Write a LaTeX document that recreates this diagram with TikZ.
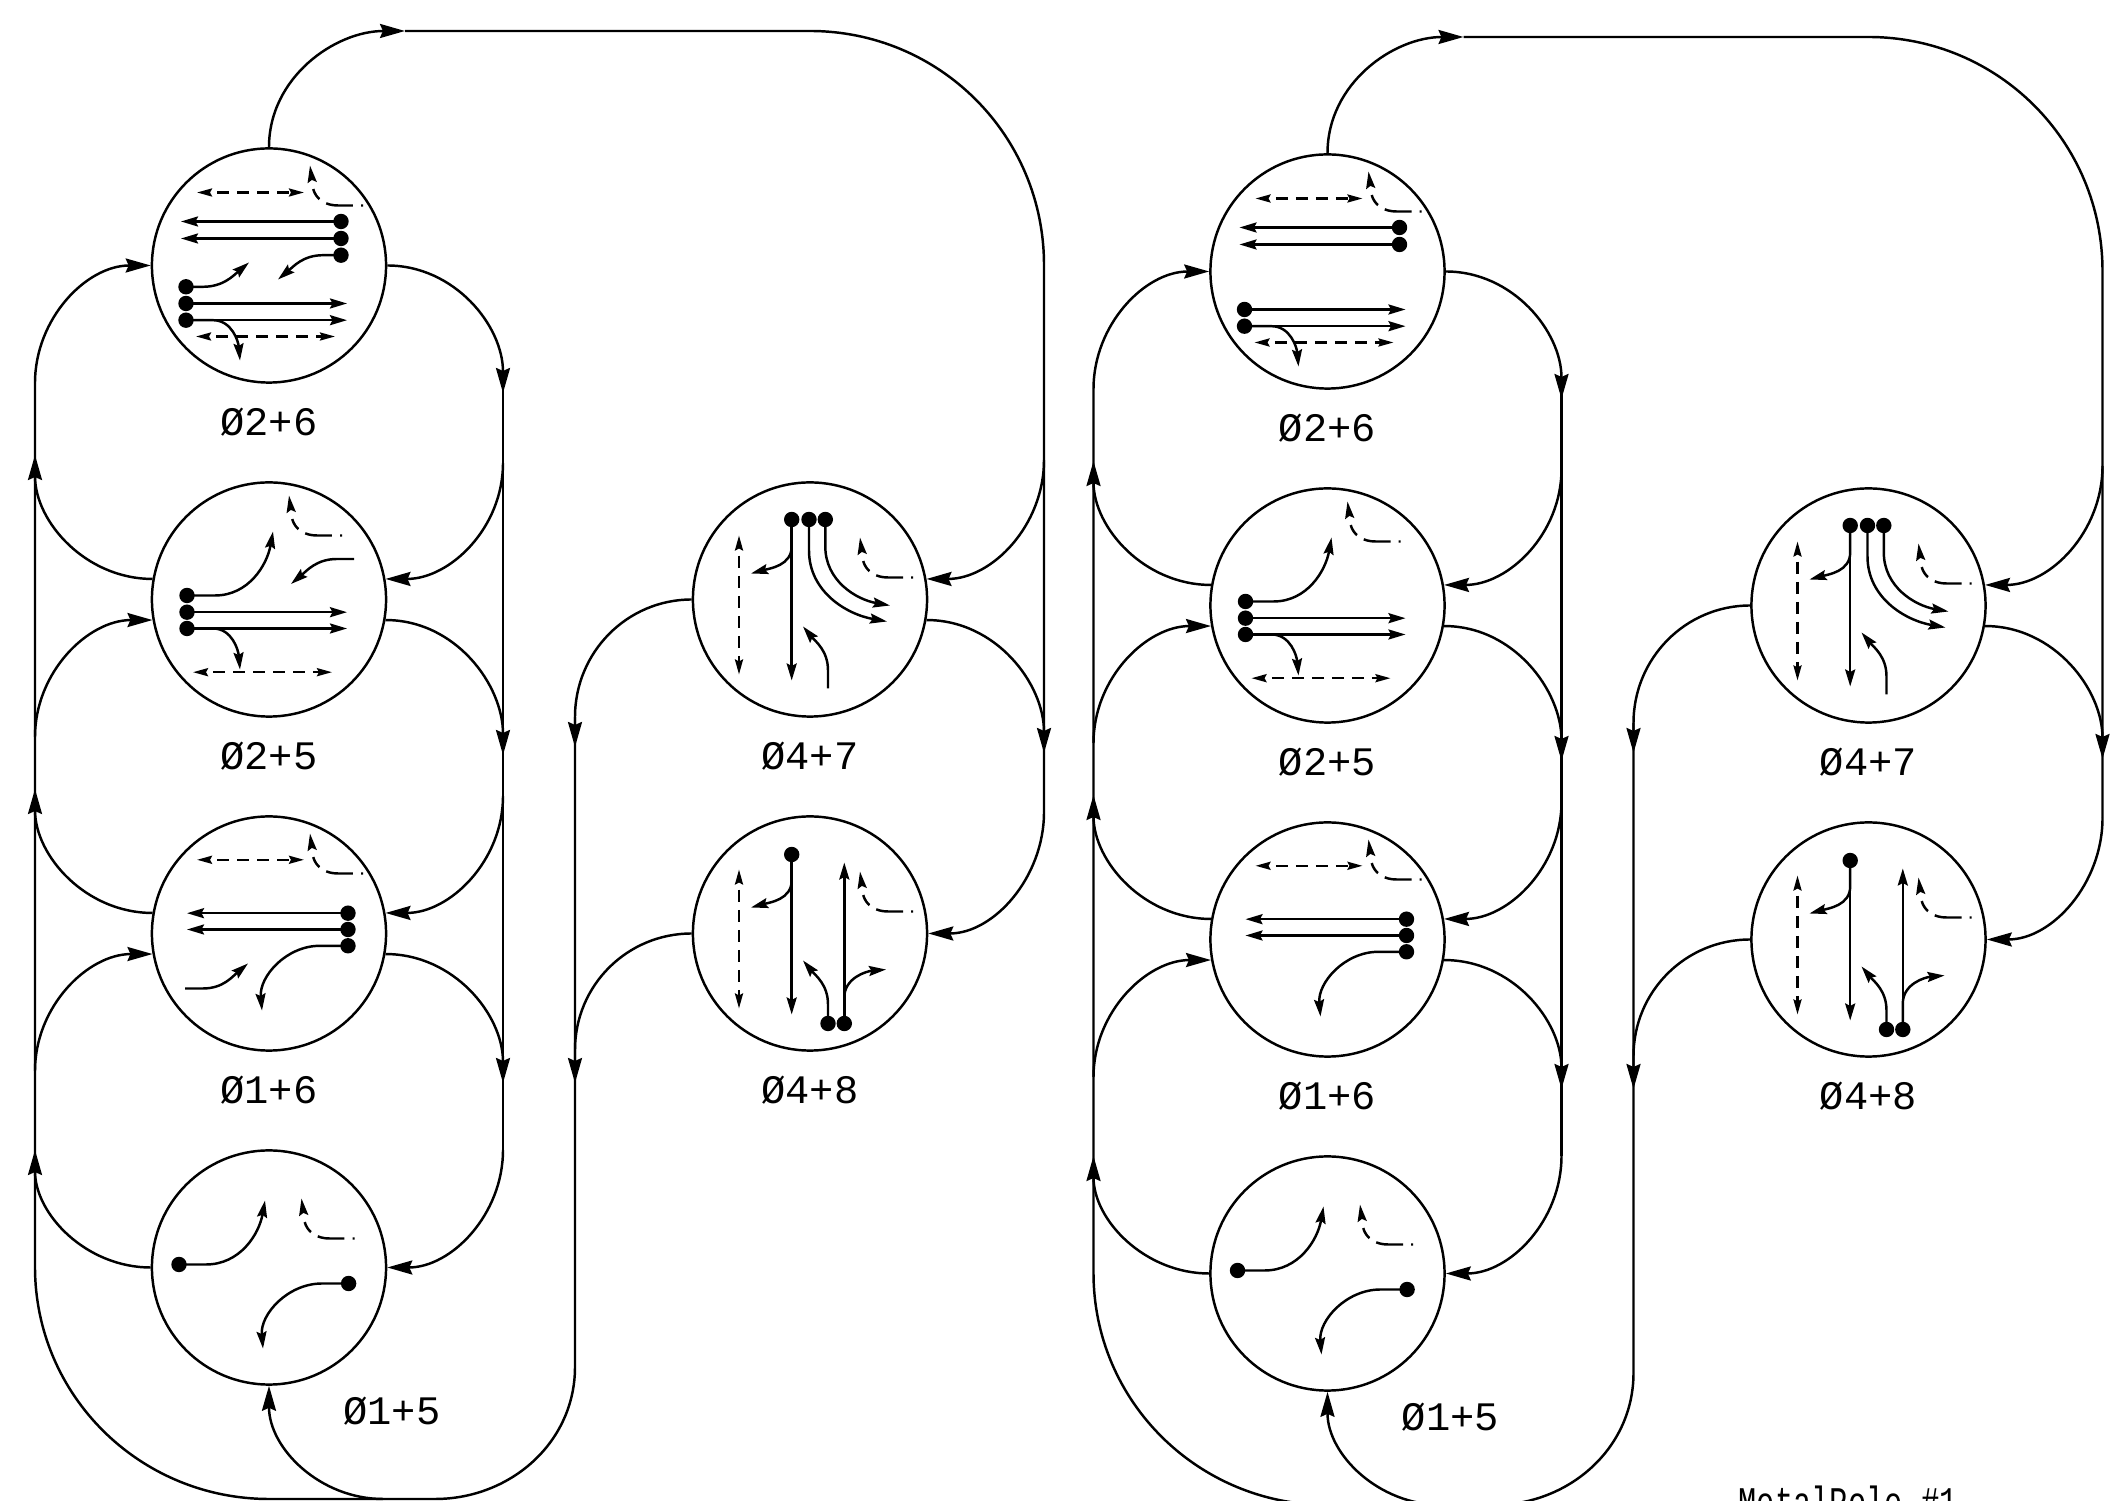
\documentclass[tikz,border=0pt]{standalone}
\usepackage{fontspec}
\usetikzlibrary{arrows.meta,positioning}
\newfontfamily\cadfont{Liberation Mono}
\newfontfamily\polefont[FakeStretch=0.72]{Liberation Mono}
\tikzset{
    phase/.style={draw,circle,minimum size=2.34cm,inner sep=0pt,line width=0.7pt},
    phasetext/.style={font=\cadfont\fontsize{11.5pt}{13pt}\selectfont,inner sep=0pt},
    bus/.style={line width=0.7pt},
    flow/.style={bus,-{Stealth[length=0.25cm,width=0.14cm,inset=0.03cm]}},
    mv/.style={line width=0.7pt,-{Stealth[length=0.17cm,width=0.1cm,inset=0.025cm]}},
    pedway/.style={line width=0.7pt,dash pattern=on 0.12cm off 0.08cm,dash phase=0.12cm,
        {Stealth[length=0.15cm,width=0.08cm,inset=0.02cm]}-{Stealth[length=0.15cm,width=0.08cm,inset=0.02cm]}},
    pedturn/.style={line width=0.7pt,dash pattern=on 0.02cm off 0.08cm on 0.27cm off 0.08cm on 0.12cm off 1cm,
        -{Stealth[length=0.17cm,width=0.09cm,inset=0.025cm]}}
}
% Right-turn overlap, from its dotted end
\newcommand{\turnmark}[2]{\draw[pedturn] (#1,#2) -- ++(-25,0) to[out=180,in=-75] ++(-25,17) -- ++(-3,23);}
% One ring of six phases
\newcommand{\phaseloop}[2]{
    % Phases
    \node[phase] (#1a) at (269,-265.5) {};
    \node[phase] (#1b) at (269,-599.5) {};
    \node[phase] (#1c) at (269,-933.5) {};
    \node[phase] (#1d) at (269,-1267.5) {};
    \node[phase] (#1e) at (810,-599.5) {};
    \node[phase] (#1f) at (810,-933.5) {};
    % Labels
    \node[phasetext,below=0.24cm of #1a] (#1ta) {Ø2+6};
    \node[phasetext,below=0.24cm of #1b] (#1tb) {Ø2+5};
    \node[phasetext,below=0.24cm of #1c] (#1tc) {Ø1+6};
    \node[phasetext] (#1td) at (392,-1411) {Ø1+5};
    \node[phasetext,below=0.24cm of #1e] (#1te) {Ø4+7};
    \node[phasetext,below=0.24cm of #1f] (#1tf) {Ø4+8};
    % Bus ends
    \coordinate (#1top) at (405,-31);
    \coordinate (#1low) at (383,-1499);
    % Top return
    \draw[flow] (#1a.north) to[out=90,in=180] (#1top);
    \draw[bus] (#1top) -- (810,-31) to[out=0,in=90] (1044,-265) -- (1044,-812);
    % Left bus
    \draw[bus] (35,-383) -- (35,-1267) to[out=-90,in=180] (269,-1499) -- (435,-1499)
        to[out=0,in=-90] (575,-1367) -- (575,-717);
    \draw[flow] (#1d.west) to[out=180,in=-90] (35,-1150);
    \draw[flow] (#1c.170) to[out=180,in=-90] (35,-789);
    \draw[flow] (#1b.170) to[out=180,in=-90] (35,-455);
    \draw[flow] (35,-1071) to[out=90,in=180] (#1c.190);
    \draw[flow] (35,-737) to[out=90,in=180] (#1b.190);
    \draw[flow] (35,-383) to[out=90,in=180] (#1a.west);
    % Right bus
    \draw[bus] (503,-382) -- (503,-1150);
    \draw[flow] (#1a.east) to[out=0,in=90] (503,-393);
    \draw[flow] (#1b.-10) to[out=0,in=90] (503,-755);
    \draw[flow] (#1c.-10) to[out=0,in=90] (503,-1083);
    \draw[flow] (503,-463) to[out=-90,in=0] (#1b.10);
    \draw[flow] (503,-796) to[out=-90,in=0] (#1c.10);
    \draw[flow] (503,-1150) to[out=-90,in=0] (#1d.east);
    \draw[flow] (#1low) to[out=180,in=-90] (#1d.south);
    % Side street
    \draw[flow] (1044,-460) to[out=-90,in=0] (#1e.10);
    \draw[flow] (1044,-812) to[out=-90,in=0] (#1f.east);
    \draw[flow] (#1e.-10) to[out=0,in=90] (1044,-753);
    \draw[flow] (#1e.west) to[out=180,in=90] (575,-717) -- (575,-747);
    \draw[flow] (#1f.west) to[out=180,in=90] (575,-1050) -- (575,-1083);
    % Phase 2+6
    \begin{scope}[shift={(269,-265.5)}]
        \draw[pedway] (-72,73) -- (35,73);
        \turnmark{94}{60}
        \draw[mv] (72,44) -- (-88,44);
        \draw[mv] (72,27) -- (-88,27);
        \draw[mv] (-83,-38) -- (78,-38);
        \draw[mv] (-83,-54.7) -- (78,-54.7);
        \draw[mv] (-83,-54.7) -- (-56,-54.7) to[out=0,in=95] (-29,-95);
        \draw[pedway] (-73,-71) -- (66,-71);
        \foreach \x/\y in {72/44,72/27,-83/-38,-83/-54.7}
            \fill (\x,\y) circle (7.7);
    \end{scope}
    % Phase 2+5
    \begin{scope}[shift={(269,-599.5)}]
        \turnmark{73}{64}
        \draw[mv] (-82,4) -- (-54,4) to[out=0,in=-100] (4,68);
        \draw[mv] (-82,-12.7) -- (78,-12.7);
        \draw[mv] (-82,-29) -- (78,-29);
        \draw[mv] (-82,-29) -- (-56,-29) to[out=0,in=95] (-29,-70);
        \draw[pedway] (-76,-72.7) -- (63,-72.7);
        \foreach \x/\y in {-82/4,-82/-12.7,-82/-29}
            \fill (\x,\y) circle (7.7);
    \end{scope}
    % Phase 1+6
    \begin{scope}[shift={(269,-933.5)}]
        \draw[pedway] (-72,73.7) -- (35,73.7);
        \turnmark{94}{60}
        \draw[mv] (79,20.3) -- (-82,20.3);
        \draw[mv] (79,4) -- (-82,4);
        \draw[mv] (79,-12.3) -- (51,-12.3) to[out=180,in=95] (-7,-77);
        \foreach \x/\y in {79/20.3,79/4,79/-12.3}
            \fill (\x,\y) circle (7.7);
    \end{scope}
    % Phase 1+5
    \begin{scope}[shift={(269,-1267.5)}]
        \turnmark{85.5}{29}
        \draw[mv] (-90,3) -- (-63,3) to[out=0,in=-100] (-4,67);
        \draw[mv] (79.6,-16) -- (53,-16) to[out=180,in=95] (-6,-81);
        \foreach \x/\y in {-90/3,79.6/-16}
            \fill (\x,\y) circle (7.7);
    \end{scope}
    % Phase 4+7
    \begin{scope}[shift={(810,-599.5)}]
        \draw[pedway] (-71,64) -- (-71,-75);
        \turnmark{103}{22}
        \draw[mv] (-18.3,80) -- (-18.3,-81);
        \draw[mv] (-18.3,80) -- (-18.3,53) to[out=-90,in=15] (-59,26);
        \draw[mv] (-1,80) -- (-1,49) to[out=-90,in=170] (77,-22);
        \draw[mv] (15.3,80) -- (15.3,53) to[out=-90,in=170] (80,-6);
        \draw[mv] (18,-89) -- (18,-71) to[out=90,in=-50] (-7,-27);
        \foreach \x/\y in {-18.3/80,-1/80,15.3/80}
            \fill (\x,\y) circle (7.7);
    \end{scope}
    % Phase 4+8
    \begin{scope}[shift={(810,-933.5)}]
        \draw[pedway] (-71,64) -- (-71,-75);
        \turnmark{103}{22}
        \draw[mv] (-18.3,79) -- (-18.3,-81);
        \draw[mv] (-18.3,79) -- (-18.3,53) to[out=-90,in=15] (-59,26);
        \draw[mv] (34.3,-90) -- (34.3,71);
        \draw[mv] (18,-90) -- (18,-71) to[out=90,in=-50] (-7,-27);
        \draw[mv] (34.3,-90) -- (34.3,-64) to[out=90,in=185] (76,-36);
        \foreach \x/\y in {-18.3/79,18/-90,34.3/-90}
            \fill (\x,\y) circle (7.7);
    \end{scope}
    #2
}
\begin{document}
\begin{tikzpicture}[x=0.01cm,y=0.01cm]
    \path[use as bounding box,clip] (0,0) rectangle (2123,-1501);
    % First ring, with the permitted turns
    \phaseloop{l}{
        \begin{scope}[shift={(269,-265.5)}]
            \draw[mv] (72,10.3) -- (54,10.3) to[out=180,in=40] (9,-14);
            \draw[mv] (-83,-21.3) -- (-66,-21.3) to[out=0,in=220] (-20,3);
            \foreach \x/\y in {72/10.3,-83/-21.3}
                \fill (\x,\y) circle (7.7);
        \end{scope}
        \draw[mv] (354,-559) -- (337,-559) to[out=180,in=40] (291,-584);
        \draw[mv] (185,-988.5) -- (203,-988.5) to[out=0,in=220] (248,-963.5);
    }
    % Second ring
    \begin{scope}[shift={(1058.5,-6)}]
        \phaseloop{r}{}
    \end{scope}
    \node[font=\polefont\fontsize{12pt}{14pt}\selectfont,anchor=north west,inner sep=0pt] (pole) at (1738,-1485) {MetalPole \#1};
\end{tikzpicture}
\end{document}
